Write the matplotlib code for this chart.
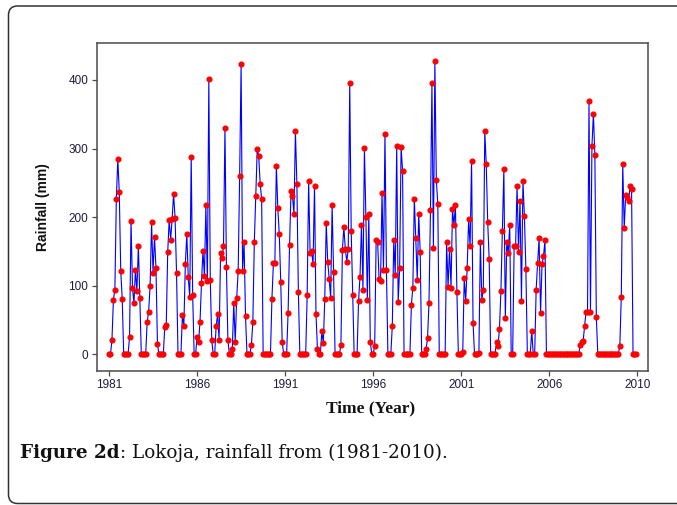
import numpy as np
import matplotlib
matplotlib.use("Agg")
import matplotlib.pyplot as plt
from matplotlib.patches import FancyBboxPatch
from matplotlib.transforms import IdentityTransform

# Monthly rainfall at Lokoja (mm), one row per year
rain_1981_1985 = [
    0, 0, 20, 79, 94, 226, 285, 236, 121, 81, 0, 0,
    0, 0, 25, 194, 97, 74, 123, 92, 158, 82, 0, 0,
    0, 0, 47, 62, 99, 192, 119, 171, 125, 15, 0, 0,
    0, 0, 40, 42, 149, 196, 167, 197, 234, 199, 119, 0,
    0, 0, 57, 41, 131, 175, 112, 83, 288, 86, 0, 0,
]
rain_1986_1990 = [
    25, 17, 47, 103, 151, 114, 217, 106, 401, 108, 20, 0,
    0, 41, 58, 21, 147, 140, 157, 330, 127, 20, 0, 0,
    8, 74, 18, 82, 121, 260, 423, 121, 164, 55, 0, 0,
    0, 13, 47, 164, 230, 300, 289, 248, 226, 0, 0, 0,
    0, 0, 0, 81, 133, 133, 275, 213, 175, 105, 17, 0,
]
rain_1991_1995 = [
    0, 0, 60, 159, 238, 230, 205, 325, 248, 91, 0, 0,
    0, 0, 0, 86, 252, 147, 151, 131, 246, 59, 8, 0,
    0, 33, 16, 81, 191, 135, 110, 82, 217, 120, 0, 0,
    0, 0, 13, 152, 185, 153, 135, 154, 396, 179, 86, 0,
    0, 0, 77, 113, 189, 94, 301, 200, 79, 205, 18, 0,
]
rain_1996_2000 = [
    0, 12, 167, 164, 109, 107, 235, 123, 321, 123, 0, 0,
    0, 41, 167, 115, 304, 76, 125, 302, 267, 0, 0, 0,
    0, 0, 72, 97, 227, 169, 108, 205, 149, 0, 0, 0,
    7, 23, 75, 210, 395, 155, 427, 254, 219, 0, 0, 0,
    0, 0, 163, 98, 154, 97, 211, 189, 217, 91, 0, 0,
]
rain_2001_2005 = [
    0, 3, 111, 78, 125, 197, 157, 282, 46, 0, 0, 0,
    2, 163, 79, 94, 325, 277, 192, 138, 0, 0, 0, 0,
    17, 11, 37, 92, 180, 270, 52, 164, 147, 188, 0, 0,
    157, 157, 246, 149, 224, 78, 253, 201, 124, 0, 0, 0,
    34, 0, 0, 94, 133, 169, 60, 131, 143, 166, 0, 0,
]
rain_2006_2010 = [
    0, 0, 0, 0, 0, 0, 0, 0, 0, 0, 0, 0,
    0, 0, 0, 0, 0, 0, 0, 0, 0, 13, 18, 19,
    41, 62, 62, 369, 62, 303, 351, 290, 54, 0, 0, 0,
    0, 0, 0, 0, 0, 0, 0, 0, 0, 0, 0, 0,
    12, 83, 277, 184, 232, 229, 224, 245, 241, 0, 0, 0,
]

tick_pos = [1, 61, 121, 181, 241, 301, 361]
tick_labels = ["1981", "1986", "1991", "1996", "2001", "2006", "2010"]

rain = np.array(rain_1981_1985 + rain_1986_1990 + rain_1991_1995
                + rain_1996_2000 + rain_2001_2005 + rain_2006_2010)
index = np.arange(1, len(rain) + 1)

fig = plt.figure(figsize=(6.77, 5.05), dpi=100)
ax = fig.add_axes([0.1428, 0.2653, 0.8148, 0.6486])

ax.plot(index, rain, color="#0000ff", linewidth=0.8, zorder=2)
ax.plot(index, rain, linestyle="none", marker="o", markersize=3.4,
        markerfacecolor="#ff0000", markeredgecolor="#ff0000", zorder=3)

ax.set_xlim(-7.4, 368.4)
ax.set_ylim(-24.8, 453.3)
ax.set_xticks(tick_pos)
ax.set_xticklabels(tick_labels)
ax.set_yticks([0, 100, 200, 300, 400])

label_color = "#1c1c3a"
for spine in ax.spines.values():
    spine.set_color("#4a4a4a")
    spine.set_linewidth(1.1)
ax.tick_params(direction="out", length=3.5, width=0.9, color="#4a4a4a",
               labelsize=8.5, labelcolor=label_color, pad=2.5)
for lbl in ax.get_xticklabels() + ax.get_yticklabels():
    lbl.set_family("Liberation Sans")

ax.set_xlabel("Time (Year)", family="Liberation Serif", fontweight="bold",
              fontsize=12.5, color="#111111")
ax.xaxis.set_label_coords(0.497, -0.113)
ax.xaxis.label.set_va("center")
ax.set_ylabel("Rainfall (mm)", family="Liberation Sans", fontweight="bold",
              fontsize=10, color="#111111")
ax.yaxis.set_label_coords(-0.097, 0.5)
ax.yaxis.label.set_va("center")

# outer rounded frame of the figure panel
frame = FancyBboxPatch((8.5, 1.5), 720, 497.5,
                       boxstyle="round,pad=0,rounding_size=9",
                       transform=IdentityTransform(), facecolor="none",
                       edgecolor="#333333", linewidth=1.1)
fig.add_artist(frame)

# caption: bold "Figure 2d" followed by regular text
cap_y = 1 - 453 / 505
t1 = fig.text(20 / 677, cap_y, "Figure 2d", family="DejaVu Serif",
              fontweight="bold", fontsize=13.2, va="center", color="#111111")
fig.canvas.draw()
bb = t1.get_window_extent()
fig.text(bb.x1 / 677, cap_y, ": Lokoja, rainfall from (1981-2010).",
         family="DejaVu Serif", fontsize=13.2, va="center", color="#111111")

fig.savefig("out.png", dpi=100)
